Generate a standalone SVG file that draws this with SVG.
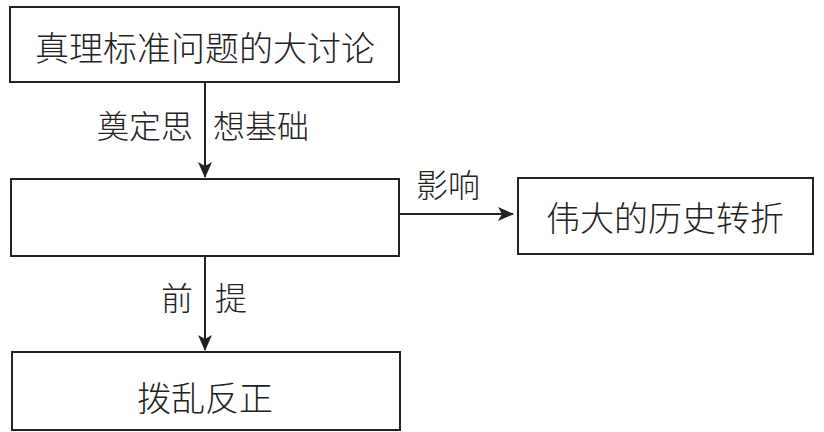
<svg xmlns="http://www.w3.org/2000/svg" width="824" height="432" viewBox="0 0 824 432">
<style>
.box{fill:#fff;stroke:#222;stroke-width:2}
.t{font-family:"Noto Sans CJK SC","Noto Sans CJK TC",sans-serif;font-size:34px;font-weight:300;fill:#222;text-anchor:middle;dominant-baseline:central}
.l{font-family:"Noto Sans CJK SC","Noto Sans CJK TC",sans-serif;font-size:32px;font-weight:300;fill:#222;dominant-baseline:central}
.c{stroke:#222;stroke-width:2;fill:none}
</style>
<defs>
<marker id="ah" markerWidth="16" markerHeight="14" refX="15" refY="7" orient="auto" markerUnits="userSpaceOnUse">
<path d="M0,0 L16,7 L0,14 L4,7 Z" fill="#222"/>
</marker>
</defs>
<rect width="824" height="432" fill="#fff"/>
<g id="connectors">
<line class="c" x1="205" y1="83" x2="205" y2="177" marker-end="url(#ah)"/>
<line class="c" x1="205" y1="257" x2="205" y2="350" marker-end="url(#ah)"/>
<line class="c" x1="400" y1="214" x2="513" y2="214" marker-end="url(#ah)"/>
<text class="l" x="193" y="124" text-anchor="end">奠定思</text>
<text class="l" x="213" y="124">想基础</text>
<text class="l" x="193" y="296" text-anchor="end">前</text>
<text class="l" x="215" y="296">提</text>
<text class="l" x="416" y="183">影响</text>
</g>
<g id="n1">
<rect class="box" x="10" y="7" width="389" height="75"/>
<text class="t" x="205" y="46">真理标准问题的大讨论</text>
</g>
<g id="n2">
<rect class="box" x="11" y="179" width="388" height="77"/>
</g>
<g id="n3">
<rect class="box" x="518" y="178" width="295" height="76"/>
<text class="t" x="665" y="216">伟大的历史转折</text>
</g>
<g id="n4">
<rect class="box" x="12" y="352" width="388" height="78"/>
<text class="t" x="205" y="396">拨乱反正</text>
</g>
</svg>
